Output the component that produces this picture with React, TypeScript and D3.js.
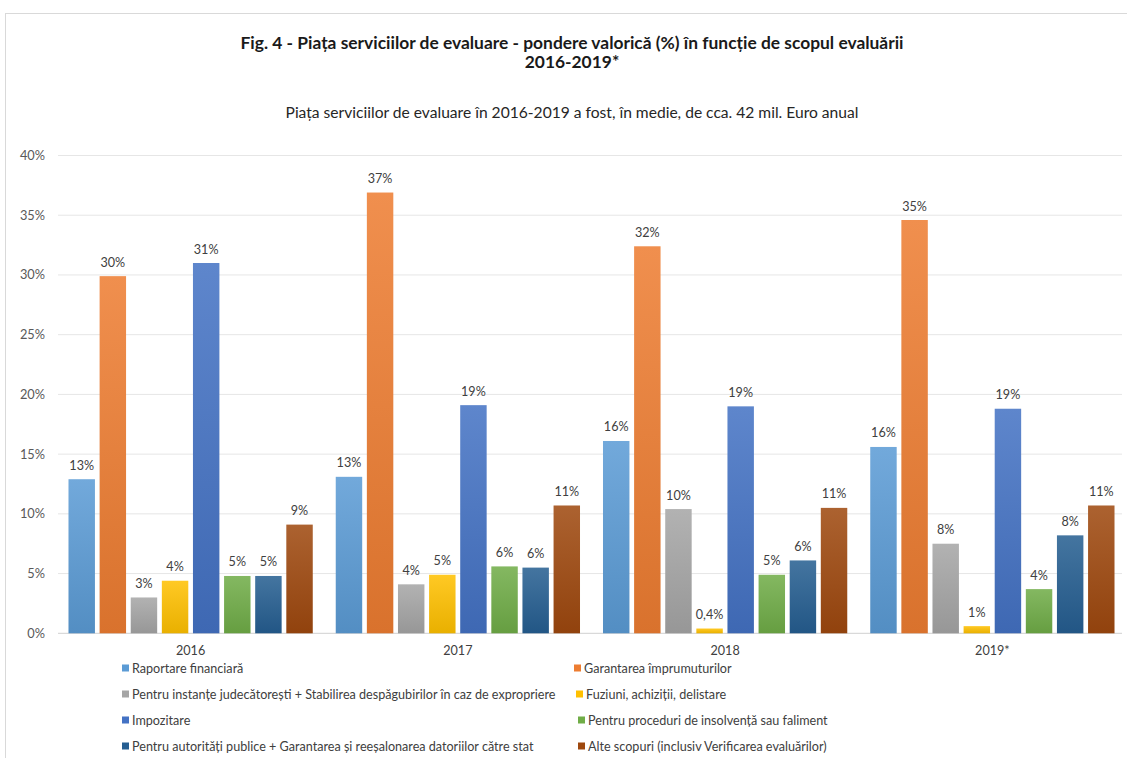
import React from "react";
import * as d3 from "d3";

const years = ["2016", "2017", "2018", "2019*"];
const seriesNames = [
  "Raportare financiară",
  "Garantarea împrumuturilor",
  "Pentru instanțe judecătorești + Stabilirea despăgubirilor în caz de expropriere",
  "Fuziuni, achiziții, delistare",
  "Impozitare",
  "Pentru proceduri de insolvență sau faliment",
  "Pentru autorități publice + Garantarea și reeșalonarea datoriilor către stat",
  "Alte scopuri (inclusiv Verificarea evaluărilor)",
];
const raportare = [12.9, 13.1, 16.1, 15.6];
const garantarea = [29.9, 36.9, 32.4, 34.6];
const instante = [3.0, 4.1, 10.4, 7.5];
const fuziuni = [4.4, 4.9, 0.4, 0.6];
const impozitare = [31.0, 19.1, 19.0, 18.8];
const insolventa = [4.8, 5.6, 4.9, 3.7];
const autoritati = [4.8, 5.5, 6.1, 8.2];
const alte = [9.1, 10.7, 10.5, 10.7];
const seriesValues = [raportare, garantarea, instante, fuziuni, impozitare, insolventa, autoritati, alte];
const colors = ["#5B9BD5", "#ED7D31", "#A5A5A5", "#FFC000", "#4472C4", "#70AD47", "#255E91", "#9E480E"];
const yTicks = [0, 5, 10, 15, 20, 25, 30, 35, 40];

const W = 1127;
const H = 758;
const FONT = "Lato, 'Open Sans', sans-serif";
const plotLeft = 57;
const plotRight = 1126;
const yTop = 155.5;
const yBottom = 633.3;

const legendRows = [
  [0, 1],
  [2, 3],
  [4, 5],
  [6, 7],
];
const legendY = [668.5, 694.5, 720.5, 746.5];
const legendCol1X = 122;
const legendCol2X = [574, 576, 578, 578];

function fmt(v: number) {
  if (v < 0.5) return d3.format(".1f")(v).replace(".", ",") + "%";
  return Math.round(v) + "%";
}

export default function App() {
  const x0 = d3.scaleBand<string>().domain(years).range([plotLeft, plotRight]).paddingInner(0.086).paddingOuter(0.043);
  const x1 = d3
    .scaleBand<number>()
    .domain(d3.range(seriesNames.length))
    .range([0, x0.bandwidth()])
    .paddingInner(0.15);
  const y = d3.scaleLinear().domain([0, 40]).range([yBottom, yTop]);

  return (
    <svg width={W} height={H} style={{ position: "absolute", left: 0, top: 0, background: "#fff" }}>
      <defs>
        {colors.map((c, i) => (
          <linearGradient key={i} id={`g${i}`} x1="0" y1="0" x2="0" y2="1">
            <stop offset="0" stopColor={d3.interpolateRgb(c, "#ffffff")(0.14)} />
            <stop offset="1" stopColor={d3.color(c)!.darker(0.25).formatHex()} />
          </linearGradient>
        ))}
      </defs>
      <rect x={0} y={0} width={W} height={H} fill="#fff" />
      <rect x={5.5} y={13.5} width={W + 20} height={H + 20} fill="none" stroke="#d9d9d9" strokeWidth={1} />

      <text x={572} y={49} textAnchor="middle" fontFamily={FONT} fontWeight="bold" fontSize={17.4} fill="#1a1a1a">
        Fig. 4 - Piața serviciilor de evaluare - pondere valorică (%) în funcție de scopul evaluării
      </text>
      <text x={572} y={68} textAnchor="middle" fontFamily={FONT} fontWeight="bold" fontSize={17.4} fill="#1a1a1a">
        2016-2019*
      </text>
      <text x={572} y={118} textAnchor="middle" fontFamily={FONT} fontSize={15.6} fill="#262626">
        Piața serviciilor de evaluare în 2016-2019 a fost, în medie, de cca. 42 mil. Euro anual
      </text>

      {yTicks.map((t) => (
        <g key={t}>
          <line
            x1={58}
            x2={1122}
            y1={y(t)}
            y2={y(t)}
            stroke={t === 0 ? "#d0d0d0" : "#e6e6e6"}
            strokeWidth={1}
          />
          <text x={45} y={y(t)} dy="0.35em" textAnchor="end" fontFamily={FONT} fontSize={12.8} fill="#595959">
            {t}%
          </text>
        </g>
      ))}

      {years.map((yr, gi) => (
        <g key={yr} transform={`translate(${x0(yr)},0)`}>
          {seriesValues.map((vals, si) => {
            const v = vals[gi];
            const bx = x1(si)!;
            const bw = x1.bandwidth();
            return (
              <g key={si}>
                <rect x={bx} y={y(v)} width={bw} height={y(0) - y(v)} fill={`url(#g${si})`} />
                <text
                  x={bx + bw / 2}
                  y={y(v) - 9.5}
                  textAnchor="middle"
                  fontFamily={FONT}
                  fontSize={12.6}
                  fill="#404040"
                >
                  {fmt(v)}
                </text>
              </g>
            );
          })}
          <text
            x={x0.bandwidth() / 2}
            y={654.5}
            textAnchor="middle"
            fontFamily={FONT}
            fontSize={12.6}
            fill="#404040"
          >
            {yr}
          </text>
        </g>
      ))}

      {legendRows.map((row, ri) =>
        row.map((si, ci) => {
          const lx = ci === 0 ? legendCol1X : legendCol2X[ri];
          const ly = legendY[ri];
          return (
            <g key={si}>
              <rect x={lx} y={ly - 4} width={7} height={7} fill={colors[si]} />
              <text x={lx + 10} y={ly} dy="0.35em" fontFamily={FONT} fontSize={12.6} fill="#404040">
                {seriesNames[si]}
              </text>
            </g>
          );
        })
      )}
    </svg>
  );
}
